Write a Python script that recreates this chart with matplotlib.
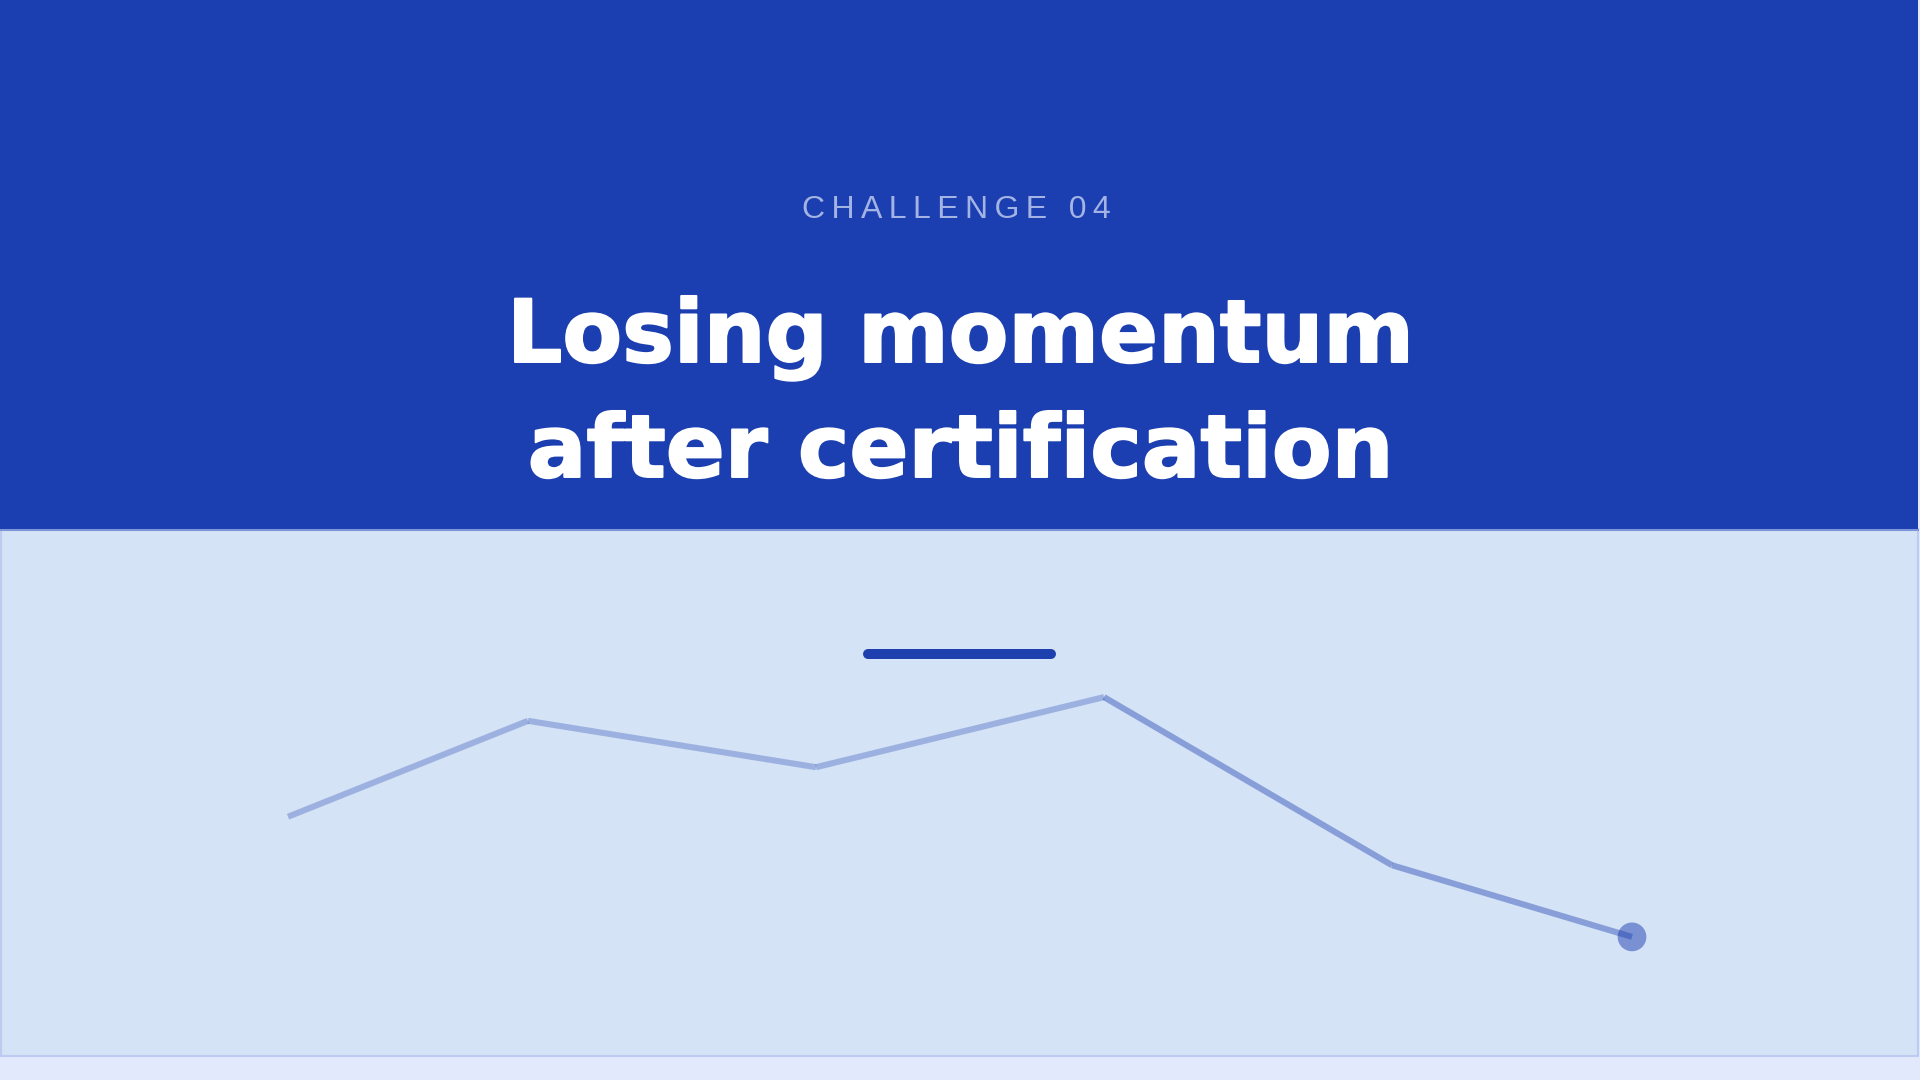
import matplotlib
matplotlib.use('Agg')
import matplotlib.pyplot as plt
import matplotlib.patheffects as pe
from matplotlib.patches import Rectangle

# ---- data ----
progress = [15, 27.5, 42.5, 57.5, 72.5, 85]          # journey position (%)
momentum = [45.4, 63.6, 54.8, 68.1, 36.2, 22.6]      # momentum score
peak_index = 3
eyebrow = "CHALLENGE 04"
title_lines = ["Losing momentum", "after certification"]

# ---- figure ----
W, H = 1920, 1080
fig = plt.figure(figsize=(19.2, 10.8), dpi=100)
fig.patch.set_facecolor('#e3e9fd')

bg = fig.add_axes([0, 0, 1, 1])
bg.set_xlim(0, W)
bg.set_ylim(H, 0)
bg.axis('off')
bg.patch.set_alpha(0)

# lower card
bg.add_patch(Rectangle((0.75, 529), 1917, 527, fc='#d5e3f6', ec='#bccbef', lw=1.5, zorder=1))
# header
bg.add_patch(Rectangle((0, 0), 1918, 529, fc='#1b3eb0', ec='none', zorder=2))
bg.plot([0, 1918], [529.5, 529.5], color='#7d95d9', lw=1.5, zorder=3)

# texts
spaced = '\u2009'.join(eyebrow)
bg.text(956.5, 218, spaced, fontsize=23, color='#a3b3e3', ha='center', va='baseline',
        family=['Liberation Sans', 'DejaVu Sans'], zorder=5)
heavy = [pe.withStroke(linewidth=1.4, foreground='white')]
bg.text(960, 362, title_lines[0], fontsize=62.6, fontweight='bold', family='DejaVu Sans',
        color='white', ha='center', va='baseline', zorder=5, path_effects=heavy)
bg.text(960, 477, title_lines[1], fontsize=62.6, fontweight='bold', family='DejaVu Sans',
        color='white', ha='center', va='baseline', zorder=5, path_effects=heavy)

# accent bar
bg.plot([868, 1051], [654, 654], color='#1e40af', lw=7.2, solid_capstyle='round', zorder=5)

# ---- chart ----
ax = fig.add_axes([0, 1 - 1056 / H, 1, 527 / H])
ax.set_xlim(0, 100)
ax.set_ylim(0, 100)
ax.axis('off')
ax.patch.set_alpha(0)

for i in range(len(progress) - 1):
    a = 0.30 if i < peak_index else 0.42
    ax.plot(progress[i:i + 2], momentum[i:i + 2], color='#1e40af', alpha=a, lw=4.4,
            solid_capstyle='butt', zorder=3)

ax.scatter([progress[-1]], [momentum[-1]], s=20.7 ** 2, color='#1e40af', alpha=0.5,
           edgecolors='none', zorder=4)

fig.savefig('out.png', dpi=100, facecolor=fig.get_facecolor())
